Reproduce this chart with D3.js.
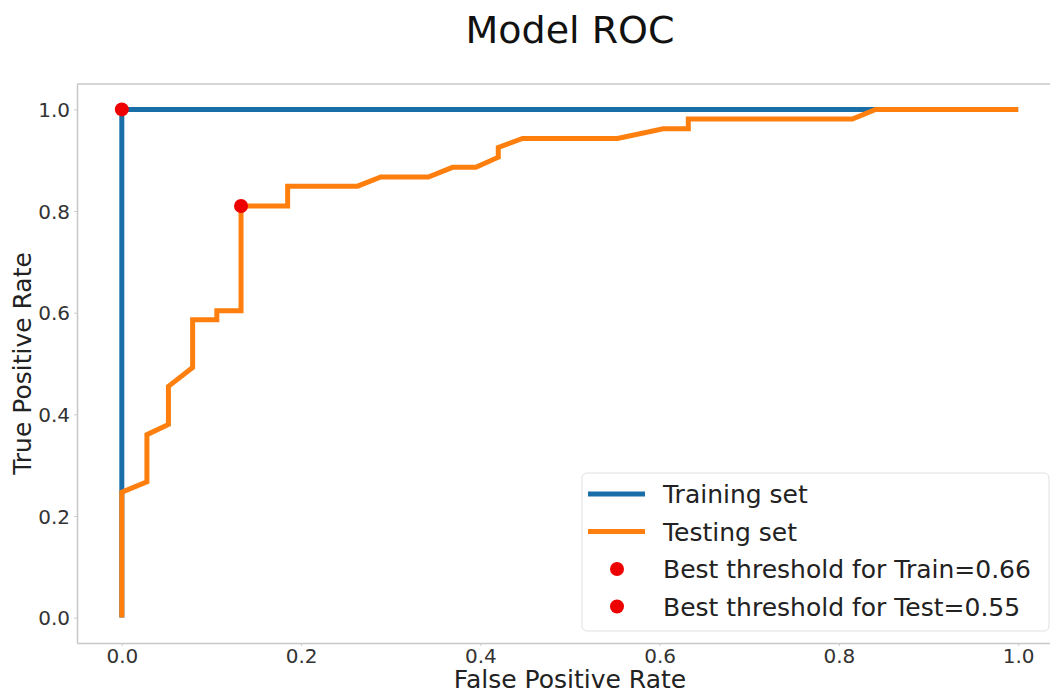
<!DOCTYPE html>
<html>
<head>
    <title>Model ROC</title>
    <script src="https://d3js.org/d3.v7.min.js"></script>
    <style>
        body { margin: 0; background: #fff; }
        text { font-family: "DejaVu Sans", sans-serif; fill: #222; }
        .tick text { font-size: 20px; fill: #333; }
        .tick line { stroke: #ccc; }
        .domain { stroke: #c8c8c8; stroke-width: 1.5px; }
    </style>
</head>
<body>

<svg width="1050" height="693"></svg>

<script>
    // training ROC curve
    var trainFpr = [0, 0, 1];
    var trainTpr = [0, 1, 1];

    // testing ROC curve
    var testFpr = [0, 0, 0.028, 0.028, 0.052, 0.052, 0.079, 0.079, 0.106, 0.106, 0.133, 0.133, 0.185, 0.185,
                   0.263, 0.289, 0.342, 0.369, 0.395, 0.420, 0.420, 0.447, 0.553, 0.604, 0.632, 0.632,
                   0.815, 0.841, 1.0];
    var testTpr = [0, 0.247, 0.267, 0.36, 0.38, 0.455, 0.492, 0.586, 0.586, 0.604, 0.604, 0.81, 0.81, 0.849,
                   0.849, 0.867, 0.867, 0.886, 0.886, 0.906, 0.925, 0.943, 0.943, 0.962, 0.962, 0.981,
                   0.981, 1.0, 1.0];

    // best thresholds
    var bestLabels = ["Best threshold for Train=0.66", "Best threshold for Test=0.55"];
    var bestFpr = [0, 0.133];
    var bestTpr = [1, 0.81];

    var tickValues = [0, 0.2, 0.4, 0.6, 0.8, 1.0];

    var svg = d3.select("svg");
    var pLeft = 77, pRight = 1063, pTop = 84, pBottom = 643;

    var x = d3.scaleLinear().domain([-0.05, 1.05]).range([pLeft, pRight]);
    var y = d3.scaleLinear().domain([-0.05, 1.05]).range([pBottom, pTop]);

    // top spine
    svg.append("line")
        .attr("class", "domain")
        .attr("x1", pLeft).attr("x2", pRight)
        .attr("y1", pTop).attr("y2", pTop);

    svg.append("g")
        .attr("transform", "translate(0," + pBottom + ")")
        .call(d3.axisBottom(x).tickValues(tickValues).tickFormat(d3.format(".1f")).tickSize(3).tickSizeOuter(0).tickPadding(3));
    var yAxis = svg.append("g")
        .attr("transform", "translate(" + pLeft + ",0)")
        .call(d3.axisLeft(y).tickValues(tickValues).tickFormat(d3.format(".1f")).tickSize(3).tickSizeOuter(0).tickPadding(4));
    yAxis.selectAll(".tick text").attr("dy", "0.36em");

    var line = d3.line()
        .x(function(d) { return x(d[0]); })
        .y(function(d) { return y(d[1]); });

    svg.append("path")
        .datum(d3.zip(trainFpr, trainTpr))
        .attr("fill", "none")
        .attr("stroke", "#1a6ea8")
        .attr("stroke-width", 5)
        .attr("d", line);

    svg.append("path")
        .datum(d3.zip(testFpr, testTpr))
        .attr("fill", "none")
        .attr("stroke", "#ff7f0e")
        .attr("stroke-width", 5)
        .attr("d", line);

    svg.selectAll(".best")
        .data(d3.zip(bestFpr, bestTpr))
        .enter().append("circle")
        .attr("class", "best")
        .attr("cx", function(d) { return x(d[0]); })
        .attr("cy", function(d) { return y(d[1]); })
        .attr("r", 7)
        .attr("fill", "#ee0000");

    // title and axis labels
    svg.append("text")
        .attr("x", (pLeft + pRight) / 2).attr("y", 43)
        .attr("text-anchor", "middle")
        .style("font-size", "38px")
        .style("fill", "#111")
        .text("Model ROC");

    svg.append("text")
        .attr("x", (pLeft + pRight) / 2).attr("y", 688)
        .attr("text-anchor", "middle")
        .style("font-size", "25px")
        .text("False Positive Rate");

    svg.append("text")
        .attr("transform", "translate(31," + (pTop + pBottom) / 2 + ") rotate(-90)")
        .attr("text-anchor", "middle")
        .style("font-size", "25px")
        .text("True Positive Rate");

    // legend
    var lg = svg.append("g").attr("transform", "translate(582,473)");
    lg.append("rect")
        .attr("width", 467).attr("height", 158)
        .attr("rx", 5)
        .attr("fill", "#fff")
        .attr("fill-opacity", 0.85)
        .attr("stroke", "#e0e0e0");

    var items = [
        { label: "Training set", type: "line", color: "#1a6ea8" },
        { label: "Testing set", type: "line", color: "#ff7f0e" },
        { label: bestLabels[0], type: "dot", color: "#ee0000" },
        { label: bestLabels[1], type: "dot", color: "#ee0000" }
    ];

    var row = lg.selectAll(".item")
        .data(items)
        .enter().append("g")
        .attr("transform", function(d, i) { return "translate(0," + (21 + i * 37.5) + ")"; });

    row.filter(function(d) { return d.type === "line"; })
        .append("line")
        .attr("x1", 6).attr("x2", 63)
        .attr("stroke", function(d) { return d.color; })
        .attr("stroke-width", 5);

    row.filter(function(d) { return d.type === "dot"; })
        .append("circle")
        .attr("cx", 35).attr("r", 7)
        .attr("fill", function(d) { return d.color; });

    row.append("text")
        .attr("x", 81)
        .attr("dy", "0.36em")
        .style("font-size", "25px")
        .text(function(d) { return d.label; });
</script>

</body>
</html>
